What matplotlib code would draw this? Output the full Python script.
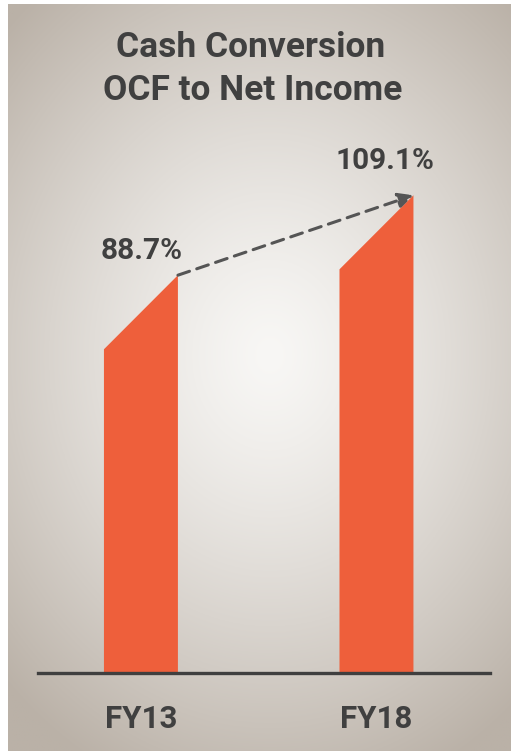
import numpy as np
import matplotlib
matplotlib.use("Agg")
import matplotlib.pyplot as plt
from matplotlib.patches import Polygon

# data
years = ["FY13", "FY18"]
ratio = [88.7, 109.1]
labels = ["88.7%", "109.1%"]

bar_color = "#ee5f3b"
text_color = "#404040"
plt.rcParams["font.family"] = ["Roboto", "DejaVu Sans"]

W, H = 511, 751
fig = plt.figure(figsize=(W / 100, H / 100), dpi=100)
fig.patch.set_facecolor("white")

# radial gradient panel
bg = fig.add_axes([8 / W, 0, (W - 8) / W, (H - 4) / H])
bg.set_axis_off()
gx, gy = np.meshgrid(np.linspace(0, 1, 300), np.linspace(0, 1, 450))
r = np.sqrt(((gx - 0.52) / 0.75) ** 2 + ((gy - 0.47) / 0.62) ** 2)
t = np.clip(r, 0, 1) ** 1.3
c0 = np.array([248, 247, 245]) / 255
c1 = np.array([186, 177, 167]) / 255
img = c0[None, None, :] * (1 - t[..., None]) + c1[None, None, :] * t[..., None]
bg.imshow(img, aspect="auto", extent=[0, 1, 0, 1], origin="upper")

# main axes: baseline at y=673 px, from x=38 to x=490 px
base_px = 673
ax = fig.add_axes([38 / W, (H - base_px) / H, (490 - 38) / W, (base_px - 100) / H])
ax.patch.set_alpha(0)
ax.set_xlim(-0.437, 1.482)
ax.set_ylim(-12.8, 133.4)
for s in ["top", "right", "left"]:
    ax.spines[s].set_visible(False)
ax.spines["bottom"].set_color("#3f3f3f")
ax.spines["bottom"].set_linewidth(2.4)
ax.set_yticks([])

x = np.arange(len(years))
w = 0.314
bevel = 18.9
y0 = ax.get_ylim()[0]
for xi, v in zip(x, ratio):
    poly = Polygon([(xi - w / 2, y0), (xi + w / 2, y0), (xi + w / 2, v),
                    (xi - w / 2, v - bevel)], closed=True,
                   facecolor=bar_color, edgecolor="none", zorder=2)
    ax.add_patch(poly)

# dashed growth arrow
ax.annotate("", xy=(x[1] + w / 2, ratio[1]), xytext=(x[0] + w / 2, ratio[0]),
            arrowprops=dict(arrowstyle="-|>,head_length=0.9,head_width=0.45",
                            linestyle=(0, (4, 2.5)), color="#555555", lw=2.2,
                            shrinkA=0, shrinkB=0), zorder=3)

offsets = [(0.7, 11.5), (6, 19)]
for xi, v, lab, off in zip(x, ratio, labels, offsets):
    ax.annotate(lab, (xi, v), xytext=off, textcoords="offset points",
                ha="center", va="baseline", fontsize=21.4, fontweight="bold",
                color=text_color)

ax.set_xticks(x)
ax.set_xticklabels(years, fontsize=22.5, fontweight="bold", color=text_color)
for lab in ax.get_xticklabels():
    lab.set_verticalalignment("baseline")
ax.tick_params(axis="x", length=0, pad=39.6)

fig.text(251 / W, 1 - 57 / H, "Cash Conversion", ha="center", va="baseline",
         fontsize=25.5, fontweight="bold", color=text_color)
fig.text(253 / W, 1 - 100 / H, "OCF to Net Income", ha="center", va="baseline",
         fontsize=25.5, fontweight="bold", color=text_color)

fig.savefig("out.png", dpi=100)
